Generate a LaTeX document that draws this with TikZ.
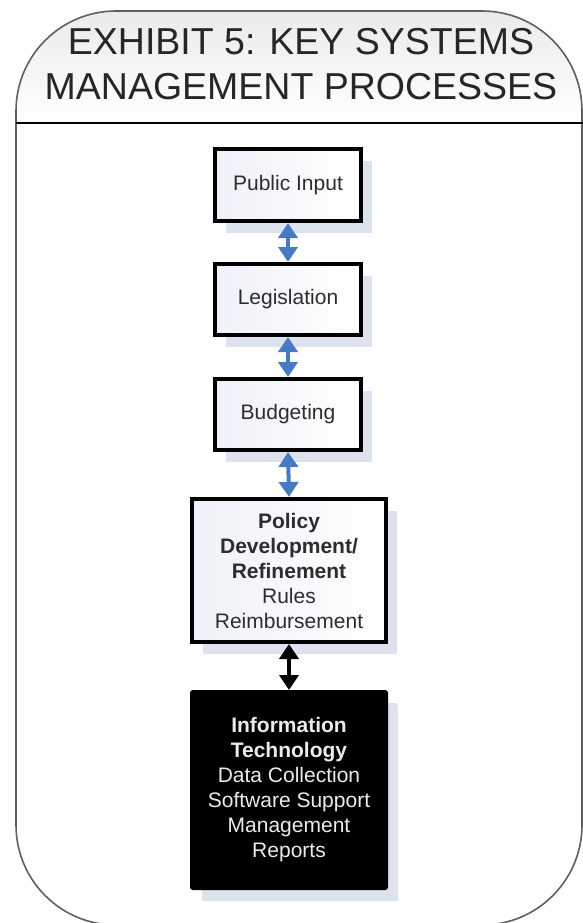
\documentclass[tikz,border=0pt]{standalone}
\usepackage{fontspec}
\setmainfont{Liberation Sans}
\usetikzlibrary{arrows.meta,shadows}
\definecolor{arrowblue}{RGB}{70,122,196}
\definecolor{shadowblue}{RGB}{220,227,239}
\definecolor{boxfill}{RGB}{238,241,247}
\definecolor{boxtext}{RGB}{45,45,45}
\definecolor{outline}{RGB}{95,95,95}
\tikzset{
  procbox/.style={draw=black, line width=4pt, left color=boxfill, right color=white,
    text=boxtext, align=center, font=\fontsize{21}{25}\selectfont,
    drop shadow={shadow xshift=11pt, shadow yshift=-12pt, fill=shadowblue, opacity=1}},
  itbox/.style={draw=black, fill=black, line width=2pt, rounded corners=2pt,
    text=white!92!black, align=center, font=\fontsize{21}{25}\selectfont,
    drop shadow={shadow xshift=11pt, shadow yshift=-12pt, fill=shadowblue, opacity=1}},
  bluelink/.style={draw=arrowblue, line width=4pt,
    {Triangle[width=19pt,length=15pt]}-{Triangle[width=19pt,length=15pt]}},
  blacklink/.style={draw=black, line width=4pt,
    {Triangle[width=19pt,length=15pt]}-{Triangle[width=19pt,length=15pt]}}
}
\begin{document}
\begin{tikzpicture}[x=1pt,y=-1pt]
\useasboundingbox (0,0) rectangle (583,923);
% frame and header
\begin{scope}
\clip[rounded corners=100pt] (16,11) rectangle (582,925);
\shade[top color=gray!16, bottom color=white] (16,11) rectangle (582,123);
\end{scope}
\draw[outline, line width=1.6pt, rounded corners=100pt] (16,11) rectangle (582,925);
\draw[outline, line width=2.5pt] (120,11) -- (480,11);
\draw[black, line width=2pt] (16,123) -- (583,123);
\node[font=\fontsize{37.5}{45}\selectfont, text=black!85, align=center] (title) at (301,64)
  {EXHIBIT 5: KEY SYSTEMS\\MANAGEMENT PROCESSES};

% process boxes
\node[procbox, minimum width=146pt, minimum height=72pt] (public) at (288,185) {Public Input};
\node[procbox, minimum width=146pt, minimum height=71pt] (legis) at (288,299.5) {Legislation};
\node[procbox, minimum width=146pt, minimum height=71pt] (budget) at (288,414.5) {Budgeting};
\node[procbox, minimum width=194pt, minimum height=143pt] (policy) at (289,570.5)
  {\textbf{Policy}\\\textbf{Development/}\\\textbf{Refinement}\\Rules\\Reimbursement};
\node[itbox, minimum width=196pt, minimum height=198pt] (infotech) at (289,790)
  {\textbf{Information}\\\textbf{Technology}\\Data Collection\\Software Support\\Management\\Reports};

% links
\draw[bluelink] (public.south) -- (legis.north);
\draw[bluelink] (legis.south) -- (budget.north);
\draw[bluelink] (budget.south) -- (policy.north);
\draw[blacklink] (policy.south) -- (infotech.north);
\end{tikzpicture}
\end{document}
